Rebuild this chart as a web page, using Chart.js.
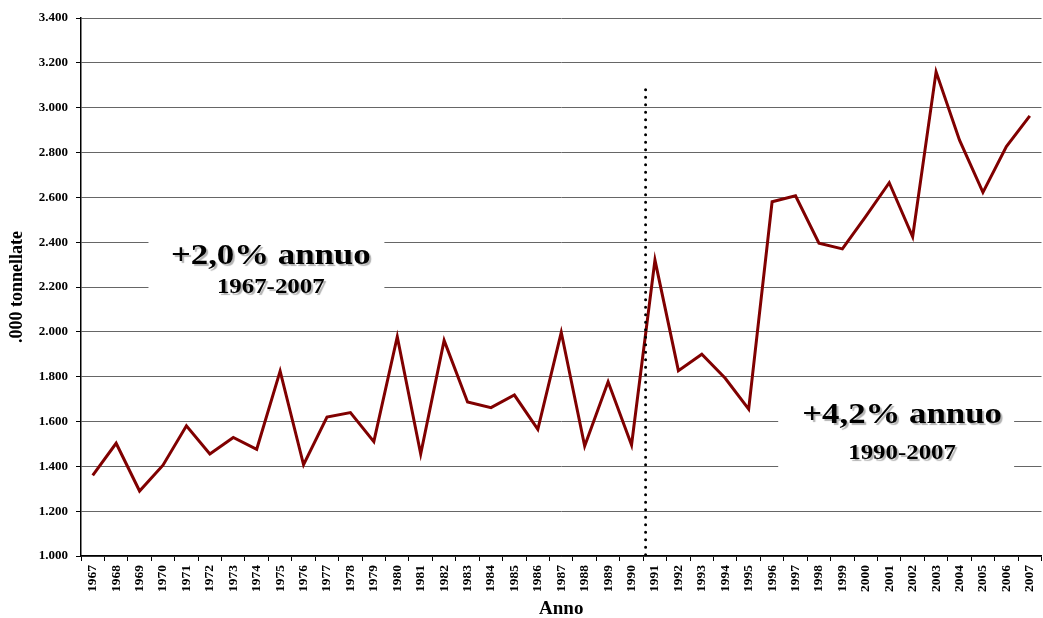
<!DOCTYPE html>
<html lang="it">
<head>
    <meta charset="UTF-8">
    <title>Produzione annua</title>
    <script src="https://cdn.jsdelivr.net/npm/chart.js"></script>
    <style>
    body, html {
        margin: 0;
        padding: 0;
        background: white;
        overflow: hidden;
    }
    #chart-container {
        width: 1050px;
        height: 618px;
    }
    </style>
</head>
<body>
<div id="chart-container">
    <canvas id="chart"></canvas>
</div>
<script>
    const years = ['1967','1968','1969','1970','1971','1972','1973','1974','1975','1976',
        '1977','1978','1979','1980','1981','1982','1983','1984','1985','1986',
        '1987','1988','1989','1990','1991','1992','1993','1994','1995','1996',
        '1997','1998','1999','2000','2001','2002','2003','2004','2005','2006','2007'];
    const tonnes = [1360, 1503, 1290, 1405, 1581, 1455, 1529, 1476, 1825, 1407,
        1620, 1640, 1510, 1978, 1455, 1962, 1687, 1662, 1718, 1565,
        1998, 1491, 1777, 1495, 2320, 1827, 1900, 1793, 1655, 2580,
        2607, 2395, 2370, 2515, 2665, 2424, 3160, 2855, 2622, 2826, 2963];

    // growth labels: text, period, category position, value of title / subtitle
    const noteTitles = ['+2,0% annuo', '+4,2% annuo'];
    const notePeriods = ['1967-2007', '1990-2007'];
    const noteIndex = [7.6, 34.55];
    const noteTitleValue = [2338, 1630];
    const noteSubValue = [2198, 1458];
    // white band behind each label (category range, value range)
    const noteBoxFrom = [2.38, 29.26];
    const noteBoxTo = [12.45, 39.33];
    const noteBoxTop = [2470, 1690];
    const noteBoxBottom = [2140, 1360];

    // dotted break between 1990 and 1991
    const breakIndex = 23.6;
    const breakTop = 3080;

    function fmt(v) {
        return String(v).replace(/\B(?=(\d{3})+(?!\d))/g, '.');
    }

    // the original lettering is a bit wider than a plain serif face
    function wideText(ctx, text, cx, cy, font, stretch) {
        ctx.save();
        ctx.font = font;
        ctx.translate(cx, cy);
        ctx.scale(stretch, 1);
        ctx.fillText(text, 0, 0);
        ctx.restore();
    }

    const notesPlugin = {
        id: 'notes',
        beforeDatasetsDraw(chart) {
            const {ctx, scales: {x, y}} = chart;
            ctx.save();
            ctx.fillStyle = 'white';
            for (let i = 0; i < noteTitles.length; i++) {
                const x0 = x.getPixelForValue(noteBoxFrom[i]);
                const x1 = x.getPixelForValue(noteBoxTo[i]);
                const y0 = y.getPixelForValue(noteBoxTop[i]);
                const y1 = y.getPixelForValue(noteBoxBottom[i]);
                ctx.fillRect(x0, y0, x1 - x0, y1 - y0);
            }
            ctx.restore();
        },
        afterDatasetsDraw(chart) {
            const {ctx, scales: {x, y}} = chart;
            ctx.save();
            // dotted vertical line
            const bx = x.getPixelForValue(breakIndex);
            ctx.strokeStyle = 'black';
            ctx.lineWidth = 3;
            ctx.lineCap = 'round';
            ctx.setLineDash([0, 7.5]);
            ctx.beginPath();
            ctx.moveTo(bx, y.getPixelForValue(breakTop));
            ctx.lineTo(bx, y.getPixelForValue(1000));
            ctx.stroke();
            ctx.setLineDash([]);

            ctx.textAlign = 'center';
            ctx.textBaseline = 'middle';
            ctx.fillStyle = 'black';
            ctx.shadowColor = 'rgba(0,0,0,0.3)';
            ctx.shadowOffsetX = 2;
            ctx.shadowOffsetY = 2;
            ctx.shadowBlur = 1;
            for (let i = 0; i < noteTitles.length; i++) {
                const cx = x.getPixelForValue(noteIndex[i]);
                wideText(ctx, noteTitles[i], cx, y.getPixelForValue(noteTitleValue[i]),
                    'bold 30px "Liberation Serif", "Times New Roman", serif', 1.16);
                wideText(ctx, notePeriods[i], cx, y.getPixelForValue(noteSubValue[i]),
                    'bold 22px "Liberation Serif", "Times New Roman", serif', 1.13);
            }
            ctx.restore();
        }
    };

    const serif = '"Liberation Serif", "Times New Roman", serif';

    new Chart(document.getElementById('chart').getContext('2d'), {
        type: 'line',
        data: {
            labels: years,
            datasets: [{
                label: '.000 tonnellate',
                data: tonnes,
                borderColor: '#800000',
                borderWidth: 3,
                pointRadius: 0,
                tension: 0,
                fill: false
            }]
        },
        options: {
            responsive: true,
            maintainAspectRatio: false,
            animation: false,
            layout: {padding: {top: 18, right: 0, bottom: 0, left: 0}},
            plugins: {
                legend: {display: false},
                tooltip: {enabled: false}
            },
            scales: {
                x: {
                    offset: true,
                    grid: {
                        offset: true,
                        drawOnChartArea: false,
                        tickLength: 5,
                        color: 'black'
                    },
                    border: {color: 'black', width: 1.5},
                    ticks: {
                        autoSkip: false,
                        minRotation: 90,
                        maxRotation: 90,
                        padding: 4,
                        color: 'black',
                        font: {family: serif, size: 13.5, weight: 'bold'}
                    },
                    title: {
                        display: true,
                        text: 'Anno',
                        color: 'black',
                        padding: {top: 0, bottom: -1},
                        font: {family: serif, size: 19, weight: 'bold', lineHeight: 1}
                    },
                    afterFit(scale) { scale.height = 62; }
                },
                y: {
                    min: 1000,
                    max: 3400,
                    grid: {
                        color: '#666',
                        tickColor: 'black',
                        tickLength: 5,
                        lineWidth: 1
                    },
                    border: {color: 'black', width: 1.5},
                    ticks: {
                        stepSize: 200,
                        padding: 8,
                        color: 'black',
                        font: {family: serif, size: 13, weight: 'bold'},
                        callback: v => fmt(v)
                    },
                    title: {
                        display: true,
                        text: '.000 tonnellate',
                        color: 'black',
                        padding: {top: 8, bottom: 0},
                        font: {family: serif, size: 18, weight: 'bold', lineHeight: 1}
                    },
                    afterFit(scale) { scale.width = 81; }
                }
            }
        },
        plugins: [notesPlugin]
    });
</script>
</body>
</html>
